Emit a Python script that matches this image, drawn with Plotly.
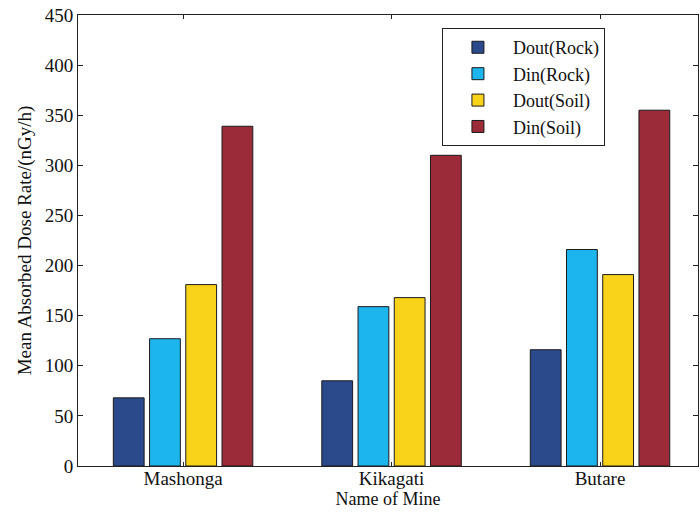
import plotly.graph_objects as go

mines = ["Mashonga", "Kikagati", "Butare"]
series_names = ["Dout(Rock)", "Din(Rock)", "Dout(Soil)", "Din(Soil)"]
dout_rock = [68, 85, 116]
din_rock = [127, 159, 216]
dout_soil = [181, 168, 191]
din_soil = [339, 310, 355]
colors = ["#2A4A8C", "#1DB5EE", "#F9D319", "#9C2B3A"]
y_ticks = [0, 50, 100, 150, 200, 250, 300, 350, 400, 450]

font_family = "Liberation Serif, Times New Roman, serif"

fig = go.Figure()
for name, vals, col in zip(series_names, [dout_rock, din_rock, dout_soil, din_soil], colors):
    fig.add_trace(go.Bar(
        x=mines, y=vals, name=name,
        marker=dict(color=col, line=dict(color="#1a1a1a", width=1)),
    ))

fig.update_layout(
    width=700, height=515,
    margin=dict(l=78, r=2, t=15, b=49),
    paper_bgcolor="white", plot_bgcolor="white",
    barmode="group", bargap=0.305, bargroupgap=0.15,
    font=dict(family=font_family, size=19, color="#111"),
    legend=dict(
        x=0.587, y=0.971, xanchor="left", yanchor="top",
        bordercolor="#222", borderwidth=1, bgcolor="white",
        font=dict(size=18, family=font_family), itemwidth=60,
        tracegroupgap=0,
    ),
    xaxis=dict(
        range=[-0.504, 2.47], automargin=False,
        showline=True, linecolor="#222", linewidth=1, mirror="ticks",
        ticks="inside", ticklen=4, tickcolor="#222",
        ticklabelstandoff=-5,
        title=dict(text="Name of Mine", standoff=0, font=dict(size=18)),
        tickfont=dict(size=19),
    ),
    yaxis=dict(
        range=[0, 450], tickvals=y_ticks, automargin=False,
        showline=True, linecolor="#222", linewidth=1, mirror="ticks",
        ticks="inside", ticklen=5, tickcolor="#222",
        showgrid=False, zeroline=False,
        title=dict(text="Mean Absorbed Dose Rate/(nGy/h)", standoff=8, font=dict(size=19)),
        tickfont=dict(size=19),
    ),
)

fig.write_html("out.html")
